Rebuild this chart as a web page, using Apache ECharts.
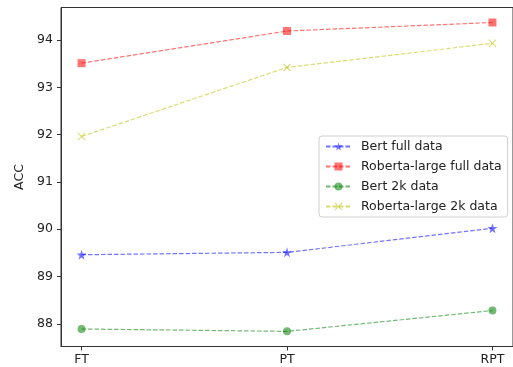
<!DOCTYPE html>
<html><head><meta charset="utf-8">
<script src="https://cdn.jsdelivr.net/npm/echarts@6/dist/echarts.min.js"></script>
<style>html,body{margin:0;padding:0;background:#fff}#c{width:513px;height:367px}</style>
</head><body><div id="c"></div>
<script>
const categories = ['FT', 'PT', 'RPT'];
const seriesNames = ['Bert full data', 'Roberta-large full data', 'Bert 2k data', 'Roberta-large 2k data'];
const bertFull = [89.46, 89.51, 90.02];
const robertaFull = [93.51, 94.19, 94.37];
const bert2k = [87.89, 87.84, 88.28];
const roberta2k = [91.96, 93.42, 93.93];
const yTicks = [88, 89, 90, 91, 92, 93, 94];

const STAR = 'path://M50,0L61,35L98,35L68,57L79,91L50,70L21,91L32,57L2,35L39,35Z';
const XMARK = 'path://M0,1L1,0L5,4L9,0L10,1L6,5L10,9L9,10L5,6L1,10L0,9L4,5Z';
const FONT = 'DejaVu Sans';
const FS = 12.5;

function mk(name, vals, color, symbol, size) {
  return {
    name: name, type: 'line',
    data: vals.map((v, i) => [i, v]),
    symbol: symbol, symbolSize: size,
    lineStyle: { color: color, width: 1.2, type: [4.5, 2] },
    itemStyle: { color: color, opacity: 1 },
    emphasis: { disabled: true },
    z: 3
  };
}

const chart = echarts.init(document.getElementById('c'), null, { renderer: 'canvas' });
chart.setOption({
  animation: false,
  grid: { left: 61, top: 7.5, width: 454, height: 339, show: true, borderColor: '#333', borderWidth: 1, backgroundColor: 'transparent' },
  xAxis: {
    type: 'value', min: -0.1, max: 2.1,
    axisLine: { show: true, onZero: false, lineStyle: { color: '#333', width: 1 } },
    axisTick: { show: true, length: 4, customValues: [0, 1, 2], lineStyle: { color: '#333' } },
    axisLabel: { customValues: [0, 1, 2], formatter: v => categories[Math.round(v)], color: '#222', fontFamily: FONT, fontSize: FS, margin: 7 },
    splitLine: { show: false }
  },
  yAxis: {
    type: 'value', min: 87.52, max: 94.687,
    name: 'ACC', nameLocation: 'middle', nameGap: 32,
    nameTextStyle: { color: '#222', fontFamily: FONT, fontSize: FS },
    axisLine: { show: true, onZero: false, lineStyle: { color: '#333', width: 1 } },
    axisTick: { show: true, length: 4, customValues: yTicks, lineStyle: { color: '#333' } },
    axisLabel: { customValues: yTicks, color: '#222', fontFamily: FONT, fontSize: FS, margin: 8 },
    splitLine: { show: false }
  },
  legend: {
    orient: 'vertical', left: 319, top: 136,
    padding: [4, 6, 4, 6],
    itemWidth: 25, itemHeight: 10, itemGap: 7,
    backgroundColor: 'rgba(255,255,255,0.85)',
    borderColor: '#d0d0d0', borderWidth: 1, borderRadius: 3,
    textStyle: { color: '#222', fontFamily: FONT, fontSize: FS, padding: [0, 0, 0, 5] },
    data: seriesNames
  },
  series: [
    mk(seriesNames[0], bertFull, 'rgba(0,0,255,0.55)', STAR, 10),
    mk(seriesNames[1], robertaFull, 'rgba(255,0,0,0.55)', 'rect', 8),
    mk(seriesNames[2], bert2k, 'rgba(0,128,0,0.55)', 'circle', 8),
    mk(seriesNames[3], roberta2k, 'rgba(191,191,0,0.55)', XMARK, 8)
  ]
});
</script></body></html>
